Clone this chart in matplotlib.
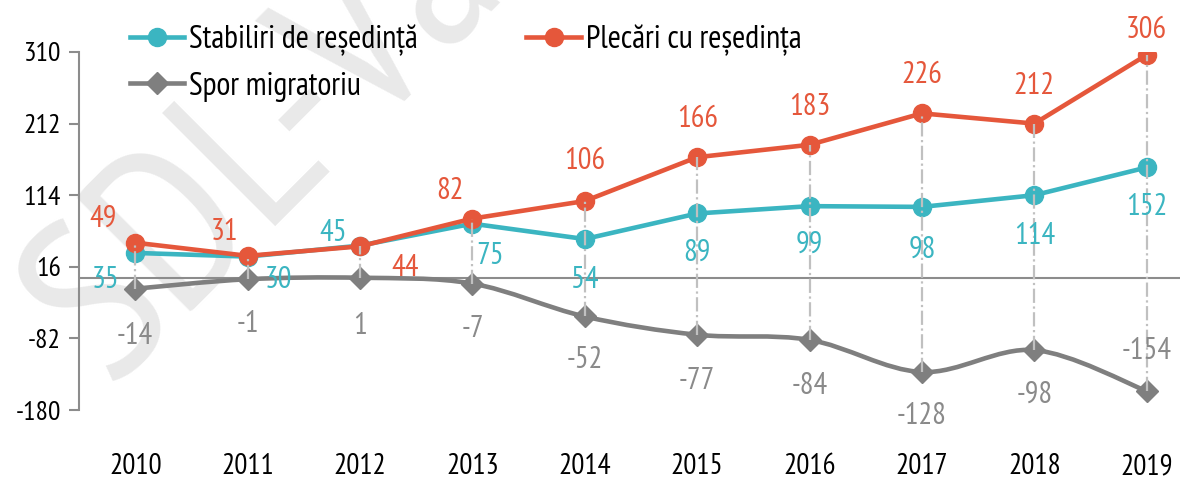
import numpy as np
import matplotlib
matplotlib.use("Agg")
import matplotlib.pyplot as plt
from matplotlib.path import Path
from matplotlib.patches import PathPatch
from matplotlib.lines import Line2D

plt.rcParams["font.family"] = ["PT Sans Narrow", "Liberation Sans Narrow", "DejaVu Sans"]

# data
years = ["2010", "2011", "2012", "2013", "2014", "2015", "2016", "2017", "2018", "2019"]
stabiliri = [35, 30, 45, 75, 54, 89, 99, 98, 114, 152]
plecari = [49, 31, 44, 82, 106, 166, 183, 226, 212, 306]
spor = [-14, -1, 1, -7, -52, -77, -84, -128, -98, -154]
yticks = [310, 212, 114, 16, -82, -180]

# colours
teal = "#3bb5c1"
red = "#e5573b"
grey = "#7f7f7f"
label_grey = "#8a8a8a"

# label offsets (pixels) for each point
off_red = [(-32, 24), (-23, 24), (45, -22), (-22, 28), (0, 40), (0, 38), (0, 38), (0, 38), (0, 38), (0, 25)]
off_teal = [(-30, -27), (31, -23), (-27, 13), (18, -32), (0, -41), (0, -39), (0, -39), (0, -43), (0, -41), (0, -40)]
off_grey = [(0, -47), (0, -45), (0, -48), (0, -45), (0, -44), (0, -46), (0, -46), (0, -44), (0, -45), (0, 40)]

fig = plt.figure(figsize=(11.92, 4.8), dpi=100)
ax = fig.add_axes([0.0663, 0.1458, 0.924, 0.7459])
x = np.arange(len(years))

# watermark
fig.text(0.092, 0.198, "SDL-Vaslui", fontsize=165, color="#e9e9e9", rotation=45,
         ha="left", va="baseline", zorder=-5, rotation_mode="anchor")

ax.set_xlim(-0.5, 9.3)
ax.set_ylim(-180, 310)
ax.set_yticks(yticks)
ax.set_yticklabels([str(v) for v in yticks], fontsize=20)
ax.set_xticks(x)
ax.set_xticklabels(years, fontsize=21)
ax.tick_params(axis="x", length=0, pad=31)
ax.tick_params(axis="y", length=7, width=1.5, color="#8c8c8c", pad=6)
for s in ["top", "right", "bottom"]:
    ax.spines[s].set_visible(False)
ax.spines["left"].set_color("#8c8c8c")
ax.spines["left"].set_linewidth(1.5)
ax.patch.set_alpha(0)
ax.axhline(0, color="#8c8c8c", lw=1.5, zorder=1)

# high-low drop lines
for i in x:
    top = max(stabiliri[i], plecari[i], spor[i])
    low = min(stabiliri[i], plecari[i], spor[i])
    ax.plot([i, i], [low, top], color="#c0c0c0", lw=1.6, ls="-.", zorder=6)

# smoothed grey line (Catmull-Rom -> cubic bezier)
pts = np.column_stack([x, spor]).astype(float)
verts = [pts[0]]
codes = [Path.MOVETO]
for i in range(len(pts) - 1):
    p0 = pts[i - 1] if i > 0 else pts[i]
    p1 = pts[i]
    p2 = pts[i + 1]
    p3 = pts[i + 2] if i + 2 < len(pts) else pts[i + 1]
    c1 = p1 + (p2 - p0) / 6
    c2 = p2 - (p3 - p1) / 6
    verts += [c1, c2, p2]
    codes += [Path.CURVE4] * 3
ax.add_patch(PathPatch(Path(verts, codes), fill=False, ec=grey, lw=3.3, zorder=3))
ax.plot(x, spor, ls="none", marker="D", ms=11, color=grey, zorder=4)

ax.plot(x, stabiliri, color=teal, lw=3.3, marker="o", ms=13, zorder=4)
ax.plot(x, plecari, color=red, lw=3.3, marker="o", ms=13, zorder=5)

for i in x:
    ax.annotate(str(plecari[i]), (i, plecari[i]), xytext=off_red[i], textcoords="offset pixels",
                ha="center", va="center", fontsize=22, color=red, zorder=7)
    ax.annotate(str(stabiliri[i]), (i, stabiliri[i]), xytext=off_teal[i], textcoords="offset pixels",
                ha="center", va="center", fontsize=22, color=teal, zorder=7)
    ax.annotate(str(spor[i]), (i, spor[i]), xytext=off_grey[i], textcoords="offset pixels",
                ha="center", va="center", fontsize=22, color=label_grey, zorder=7)

h_teal = Line2D([], [], color=teal, lw=3.3, marker="o", ms=13)
h_red = Line2D([], [], color=red, lw=3.3, marker="o", ms=13)
h_grey = Line2D([], [], color=grey, lw=3.3, marker="D", ms=11)
ax.legend([h_teal, h_grey, h_red], ["Stabiliri de reședință", "Spor migratoriu", "Plecări cu reședința"],
          ncol=2, loc="upper left", bbox_to_anchor=(130 / 1192, 0.95), bbox_transform=fig.transFigure,
          frameon=False, fontsize=23, borderpad=0, borderaxespad=0,
          handlelength=1.7, handletextpad=0.15, columnspacing=3.4, labelspacing=0.5)

fig.savefig("out.png", dpi=100)
